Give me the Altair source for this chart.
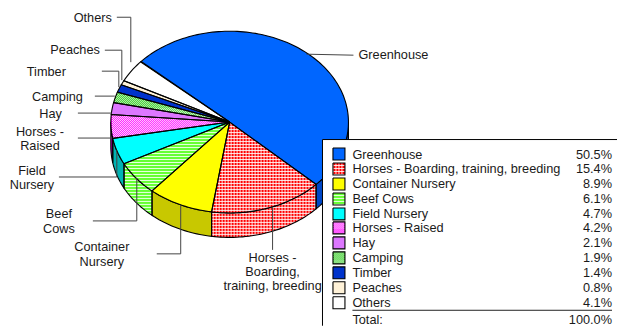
import math
import altair as alt
import pandas as pd

# ---- data ----
categories = ["Greenhouse", "Horses - Boarding, training, breeding", "Container Nursery",
              "Beef Cows", "Field Nursery", "Horses - Raised", "Hay", "Camping",
              "Timber", "Peaches", "Others"]
shares = [50.5, 15.4, 8.9, 6.1, 4.7, 4.2, 2.1, 1.9, 1.4, 0.8, 4.1]
share_labels = ["50.5%", "15.4%", "8.9%", "6.1%", "4.7%", "4.2%", "2.1%", "1.9%", "1.4%", "0.8%", "4.1%"]
total_label = "100.0%"

# ---- styles ----
top_colors = ["#0066ff", "#ff0000", "#ffff00", "#66ff33", "#00ffff", "#ff00ff",
              "#dd77ff", "#33cc22", "#0033cc", "#fff2d8", "#ffffff"]
side_colors = ["#0047c8", "#ff0000", "#c8c800", "#66ff33", "#00b4b4", "#b000b0",
               "#9a50b0", "#33cc22", "#002490", "#fff2d8", "#dddddd"]
patterns = [None, "grid", None, "stripes", None, "check", None, "check", None, None, None]

# ---- layout (page pixels) ----
CX, CY, RX, RY, DEPTH = 230.0, 122.0, 119.0, 91.0, 24.5
START = -48.5
W, H = 610, 318
xs = alt.X("x:Q", scale=alt.Scale(domain=[8, 8 + W], range=[0, W]), axis=None)
ys = alt.Y("y:Q", scale=alt.Scale(domain=[8, 8 + H], range=[0, H]), axis=None)
xs2 = alt.X2("x2:Q")
ys2 = alt.Y2("y2:Q")
FONT = "Liberation Sans"
FS = 12.75
TXT = "#1a1a1a"
TEXT_DY = 0.5


def pt(theta):
    r = math.radians(theta)
    return (CX + RX * math.sin(r), CY - RY * math.cos(r))


def arc(a, b):
    n = max(2, int(abs(b - a) / 1.5) + 1)
    return [pt(a + (b - a) * i / n) for i in range(n + 1)]


def crossings(poly, v, axis):
    out = []
    m = len(poly)
    for i in range(m):
        p, q = poly[i], poly[(i + 1) % m]
        a, b = p[axis], q[axis]
        if (a <= v) != (b <= v):
            t = (v - a) / (b - a)
            out.append(p[1 - axis] + t * (q[1 - axis] - p[1 - axis]))
    return sorted(out)


def pattern_marks(poly, kind):
    segs, dots = [], []
    ymin, ymax = int(min(p[1] for p in poly)), int(max(p[1] for p in poly)) + 1
    xmin, xmax = int(min(p[0] for p in poly)), int(max(p[0] for p in poly)) + 1
    if kind in ("grid", "stripes"):
        for y in range(ymin, ymax + 1):
            if y % 3 == 0:
                c = crossings(poly, y + 0.5, 1)
                for i in range(0, len(c) - 1, 2):
                    segs.append(dict(x=c[i], x2=c[i + 1], y=y + 0.5, y2=y + 0.5))
    if kind == "grid":
        for x in range(xmin, xmax + 1):
            if x % 3 == 0:
                c = crossings(poly, x + 0.5, 0)
                for i in range(0, len(c) - 1, 2):
                    segs.append(dict(x=x + 0.5, x2=x + 0.5, y=c[i], y2=c[i + 1]))
    if kind == "check":
        for y in range(ymin, ymax + 1):
            c = crossings(poly, y + 0.5, 1)
            for i in range(0, len(c) - 1, 2):
                for x in range(int(c[i]) + 1, int(c[i + 1])):
                    if (x + y) % 2 == 0:
                        dots.append(dict(x=x + 0.5, y=y + 0.5))
    return segs, dots


def shape_layers(shapes):
    """shapes: list of (polygon, fill, pattern)."""
    fills, segs, dots = [], [], []
    for k, (poly, fill, kind) in enumerate(shapes):
        closed = poly + [poly[0]]
        for j, (x, y) in enumerate(closed):
            fills.append(dict(id=k, o=j, x=x, y=y, fill=fill))
        if kind:
            s, d = pattern_marks(poly, kind)
            segs += s
            dots += d
    df = pd.DataFrame(fills)
    out = [alt.Chart(df).mark_line(strokeWidth=0, stroke="transparent", interpolate="linear").encode(
        x=xs, y=ys, order="o:Q", detail="id:N", fill=alt.Fill("fill:N", scale=None))]
    if segs:
        out.append(alt.Chart(pd.DataFrame(segs)).mark_rule(color="#ffffff", strokeWidth=1, opacity=0.85).encode(
            x=xs, y=ys, x2=xs2, y2=ys2))
    if dots:
        out.append(alt.Chart(pd.DataFrame(dots)).mark_square(color="#ffffff", size=0.9, opacity=1, strokeWidth=0).encode(
            x=xs, y=ys))
    out.append(alt.Chart(df).mark_line(stroke="#000000", strokeWidth=1.1, interpolate="linear").encode(
        x=xs, y=ys, order="o:Q", detail="id:N"))
    return out


# ---- pie geometry from the shares ----
sides, tops, a = [], [], START
for v, tc, sc, pat in zip(shares, top_colors, side_colors, patterns):
    b = a + v * 3.6
    tops.append(([(CX, CY)] + arc(a, b), tc, pat))
    lo, hi = max(a, 90), min(b, 270)
    if lo < hi:
        upper = arc(lo, hi)
        lower = [(x, y + DEPTH) for x, y in reversed(upper)]
        sides.append((upper + lower, sc, pat))
    a = b

# ---- leaders (page pixels) ----
leaders = [
    [(117, 17), (131, 17), (131, 62)],
    [(105, 50), (122, 50), (122, 80)],
    [(102, 71), (119, 71), (119, 87)],
    [(95, 96), (115, 96)],
    [(78, 113), (112, 113)],
    [(78, 138), (112, 138)],
    [(59, 177), (117, 177), (117, 150)],
    [(93, 221), (137, 221), (137, 178)],
    [(157, 254), (181, 254), (181, 205)],
    [(273, 207), (273, 250)],
    [(307, 54), (354, 55)],
]
leader_rows = [dict(id=i, o=j, x=x, y=y) for i, l in enumerate(leaders) for j, (x, y) in enumerate(l)]
leader_chart = alt.Chart(pd.DataFrame(leader_rows)).mark_line(stroke="#444444", strokeWidth=1).encode(
    x=xs, y=ys, order="o:Q", detail="id:N")

# ---- pie labels ----
right_labels = [("Others", 112, 17), ("Peaches", 100, 49), ("Timber", 66, 71), ("Camping", 83, 96), ("Hay", 62, 113)]
center_labels = [("Horses -", 40, 131), ("Raised", 40, 145), ("Field", 32, 171), ("Nursery", 32, 185),
                 ("Beef", 59, 214), ("Cows", 59, 229), ("Container", 102, 247), ("Nursery", 102, 262),
                 ("Horses -", 273, 258), ("Boarding,", 273, 272), ("training, breeding", 273, 286)]
left_labels = [("Greenhouse", 359, 54)]


def text_layer(rows, align):
    df = pd.DataFrame(rows, columns=["t", "x", "y"])
    df["y"] = df["y"] + TEXT_DY
    return alt.Chart(df).mark_text(align=align, baseline="middle", font=FONT, fontSize=FS, color=TXT).encode(
        x=xs, y=ys, text="t:N")


# ---- legend ----
BOX_L, BOX_T = 323, 139.5
box = alt.Chart(pd.DataFrame([dict(x=BOX_L, x2=8 + W, y=BOX_T, y2=8 + H)])).mark_rect(
    color="#ffffff", strokeWidth=0).encode(x=xs, y=ys, x2=xs2, y2=ys2)
box_lines = alt.Chart(pd.DataFrame([
    dict(x=BOX_L, x2=8 + W, y=BOX_T, y2=BOX_T),
    dict(x=BOX_L, x2=BOX_L, y=BOX_T, y2=8 + H),
])).mark_rule(color="#000000", strokeWidth=1).encode(x=xs, y=ys, x2=xs2, y2=ys2)
row_y = [154, 169, 184, 199, 214, 228, 243, 258, 273, 288, 303]
swatches = [([(333.5, y - 6), (345.5, y - 6), (345.5, y + 6), (333.5, y + 6)], c, p)
            for y, c, p in zip(row_y, top_colors, patterns)]
legend_names = [(n, 353, y) for n, y in zip(categories, row_y)] + [("Total:", 353, 320)]
legend_vals = [(s, 613, y) for s, y in zip(share_labels, row_y)] + [(total_label, 613, 320)]
total_rule = alt.Chart(pd.DataFrame([dict(x=353, x2=613, y=310.5, y2=310.5)])).mark_rule(
    color="#222222", strokeWidth=1).encode(x=xs, y=ys, x2=xs2, y2=ys2)

layers = (shape_layers(sides) + shape_layers(tops) + [leader_chart]
          + [text_layer(right_labels, "right"), text_layer(center_labels, "center"), text_layer(left_labels, "left")]
          + [box, box_lines] + shape_layers(swatches)
          + [text_layer(legend_names, "left"), text_layer(legend_vals, "right"), total_rule])

chart = alt.layer(*layers).properties(width=W, height=H, padding=0, background="#ffffff").configure_view(stroke=None)
chart.save("out.html", embed_options={"renderer": "svg", "actions": False})
